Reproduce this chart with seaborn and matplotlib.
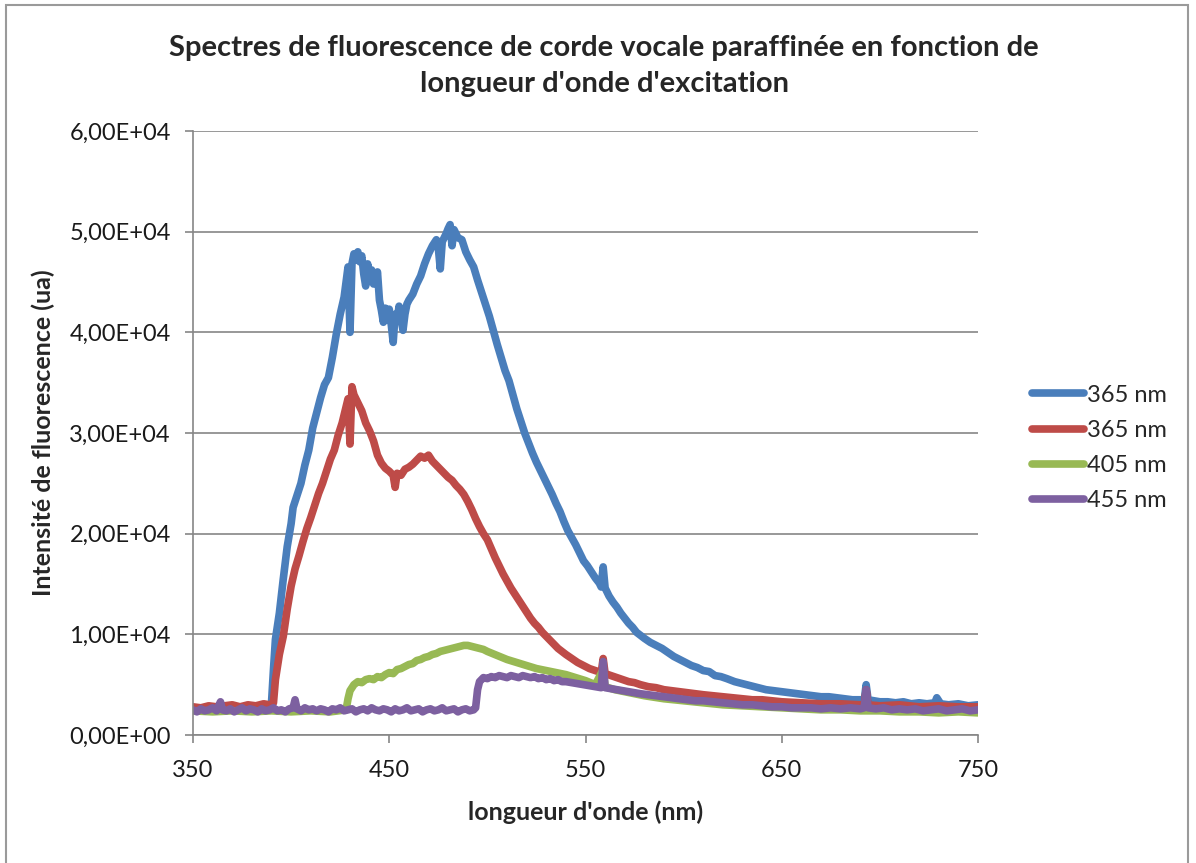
import numpy as np
import pandas as pd
import matplotlib
matplotlib.use("Agg")
import matplotlib.pyplot as plt
import matplotlib.patches as patches
from matplotlib.ticker import FuncFormatter
import seaborn as sns

# spectra (nm, intensity ua)
blue_nm = [350, 352, 354, 356, 358, 360, 362, 364, 366, 368, 370, 372, 374, 376, 378, 380, 382, 384, 386, 388,
           390, 391, 392, 394, 396, 398, 400, 401, 403, 405, 407, 409, 411, 413, 415, 417, 419, 421, 423, 425,
           427, 428, 429, 430, 431, 432, 433, 434, 435, 436, 437, 438, 439, 440, 441, 442, 443, 444, 445, 446,
           447, 448, 449, 450, 451, 452, 453, 454, 455, 456, 457, 458, 459, 460, 462, 464, 466, 468, 470, 472,
           474, 475, 476, 477, 479, 480, 481, 482, 483, 485, 487, 489, 491, 493, 495, 497, 499, 501, 503, 505,
           507, 509, 511, 513, 515, 517, 519, 521, 523, 525, 527, 529, 531, 533, 535, 537, 539, 541, 543, 545,
           547, 549, 551, 553, 555, 557, 558, 559, 560, 562, 564, 566, 568, 570, 572, 574, 576, 578, 580, 583,
           586, 589, 592, 595, 598, 601, 604, 607, 610, 613, 616, 619, 622, 626, 630, 634, 638, 642, 646, 650,
           654, 658, 662, 666, 670, 674, 678, 682, 686, 690, 692, 693, 694, 697, 700, 704, 708, 712, 716, 720,
           724, 728, 729, 731, 735, 740, 745, 750]
blue_val = [2500, 2700, 2400, 2600, 2500, 2800, 2500, 2600, 2700, 2500, 2800, 2600, 2700, 2500, 2800, 2600, 2700, 2600, 2800, 2700,
            3200, 6500, 9500, 12100, 15500, 18700, 21000, 22600, 23800, 25000, 26800, 28300, 30500, 32000, 33500, 34800, 35500, 37500, 39800, 41800,
            43500, 45000, 46500, 40000, 46800, 47800, 47200, 48000, 47000, 47600, 45800, 44600, 46800, 45500, 46200, 44800, 45200, 46000, 43200, 42200,
            41000, 42400, 41200, 42300, 40800, 39000, 41800, 41200, 42600, 41400, 40200, 41800, 42800, 43200, 43800, 44800, 45600, 46800, 47800, 48600,
            49200, 48400, 46300, 49000, 49800, 50300, 50700, 48600, 50200, 49400, 49200, 48000, 47200, 46500, 45200, 44000, 42800, 41600, 40200, 38800,
            37500, 36200, 35200, 33800, 32400, 31200, 30000, 29000, 28000, 27100, 26300, 25500, 24700, 23900, 23000, 22200, 21200, 20300, 19600, 18900,
            18100, 17300, 16800, 16200, 15600, 15100, 14700, 16700, 14600, 13800, 13200, 12700, 12100, 11600, 11100, 10700, 10200, 9900, 9600, 9200,
            8900, 8600, 8200, 7800, 7500, 7200, 6900, 6700, 6400, 6300, 5900, 5800, 5600, 5300, 5100, 4900, 4700, 4500, 4400, 4300,
            4200, 4100, 4000, 3900, 3800, 3800, 3700, 3600, 3500, 3500, 3400, 5000, 3500, 3400, 3300, 3300, 3200, 3300, 3100, 3200,
            3100, 3200, 3700, 3100, 3000, 3100, 2900, 3000]

red_nm = [350, 354, 358, 362, 366, 370, 374, 378, 382, 386, 389, 391, 392, 394, 396, 398, 400, 402, 404, 406,
          408, 410, 412, 414, 416, 418, 420, 422, 424, 426, 428, 429, 430, 431, 432, 434, 436, 438, 440, 442,
          444, 446, 448, 450, 452, 453, 454, 456, 458, 460, 462, 464, 466, 468, 470, 472, 474, 476, 478, 480,
          482, 484, 486, 488, 490, 492, 494, 496, 498, 500, 502, 504, 506, 508, 510, 512, 514, 516, 518, 520,
          522, 524, 526, 528, 530, 532, 534, 536, 538, 540, 543, 546, 549, 552, 555, 558, 559, 560, 563, 566,
          569, 572, 575, 578, 582, 586, 590, 594, 598, 602, 606, 610, 615, 620, 625, 630, 635, 640, 645, 650,
          660, 670, 680, 690, 692, 693, 694, 700, 710, 720, 730, 740, 750]
red_val = [2800, 2700, 2900, 2800, 2900, 3000, 2800, 3000, 2900, 3100, 3000, 3200, 5500, 8000, 9800, 12500, 14800, 16500, 17800, 19200,
           20500, 21600, 22800, 24000, 25000, 26200, 27400, 28300, 29800, 31000, 32600, 33400, 28900, 34600, 33800, 33000, 32200, 31000, 30200, 29200,
           27800, 27000, 26500, 26200, 25800, 24600, 26000, 25800, 26400, 26600, 26900, 27300, 27700, 27500, 27800, 27200, 26800, 26400, 26000, 25600,
           25300, 24800, 24400, 23900, 23200, 22400, 21500, 20700, 20000, 19400, 18500, 17600, 16800, 16000, 15300, 14600, 14000, 13400, 12800, 12200,
           11600, 11100, 10700, 10200, 9800, 9400, 9000, 8600, 8300, 8000, 7600, 7200, 6900, 6600, 6400, 6200, 7600, 6100, 5900, 5700,
           5500, 5300, 5200, 5000, 4800, 4700, 4500, 4400, 4300, 4200, 4100, 4000, 3900, 3800, 3700, 3600, 3500, 3500, 3400, 3300,
           3200, 3100, 3100, 3000, 3000, 4500, 3000, 2900, 3000, 2800, 2900, 2800, 2800]

green_nm = [350, 360, 370, 380, 390, 400, 410, 420, 428, 429, 430, 432, 434, 436, 438, 440, 442, 444, 446, 448,
            450, 452, 454, 456, 458, 460, 462, 464, 466, 468, 470, 472, 474, 476, 478, 480, 482, 484, 486, 488,
            490, 492, 494, 496, 498, 500, 505, 510, 515, 520, 525, 530, 535, 540, 545, 550, 555, 559, 560, 565,
            570, 575, 580, 590, 600, 610, 620, 630, 640, 650, 660, 670, 680, 690, 700, 710, 720, 730, 740, 750]
green_val = [2400, 2300, 2400, 2300, 2400, 2300, 2400, 2300, 2500, 3600, 4400, 5000, 5300, 5200, 5500, 5600, 5500, 5800, 5700, 6000,
             6200, 6100, 6500, 6600, 6800, 7000, 7100, 7400, 7500, 7700, 7800, 8000, 8100, 8300, 8400, 8500, 8600, 8700, 8800, 8900,
             8900, 8800, 8700, 8600, 8500, 8300, 7900, 7500, 7200, 6900, 6600, 6400, 6200, 6000, 5700, 5400, 5000, 6500, 4800, 4500,
             4300, 4100, 3900, 3600, 3400, 3200, 3000, 2900, 2800, 2700, 2600, 2500, 2500, 2400, 2400, 2300, 2300, 2200, 2300, 2200]

purple_nm = [350, 352, 354, 356, 358, 360, 362, 364, 365, 367, 369, 371, 373, 375, 377, 379, 381, 383, 385, 387,
             389, 391, 393, 395, 397, 399, 401, 402, 403, 405, 407, 409, 411, 413, 415, 417, 419, 421, 423, 425,
             427, 429, 431, 433, 435, 437, 439, 441, 443, 445, 447, 449, 451, 453, 455, 457, 459, 461, 463, 465,
             467, 469, 471, 473, 475, 477, 479, 481, 483, 485, 487, 489, 491, 493, 494, 495, 496, 498, 500, 502,
             504, 506, 508, 510, 512, 514, 516, 518, 520, 522, 524, 526, 528, 530, 532, 534, 536, 538, 540, 543,
             546, 549, 552, 555, 558, 559, 560, 563, 566, 569, 572, 575, 578, 582, 586, 590, 594, 598, 602, 606,
             610, 615, 620, 625, 630, 635, 640, 645, 650, 655, 660, 665, 670, 675, 680, 685, 690, 692, 693, 694,
             698, 702, 706, 710, 714, 718, 722, 726, 730, 734, 738, 742, 746, 750]
purple_val = [2500, 2300, 2600, 2400, 2500, 2700, 2400, 3300, 2500, 2400, 2600, 2300, 2500, 2700, 2400, 2600, 2500, 2300, 2600, 2400,
              2500, 2700, 2400, 2500, 2300, 2600, 2700, 3500, 2600, 2400, 2700, 2500, 2600, 2400, 2600, 2500, 2300, 2600, 2500, 2700,
              2400, 2500, 2600, 2300, 2500, 2600, 2400, 2700, 2500, 2400, 2600, 2500, 2300, 2600, 2400, 2500, 2700, 2400, 2500, 2600,
              2300, 2500, 2600, 2400, 2500, 2700, 2400, 2500, 2600, 2300, 2500, 2600, 2400, 2500, 2700, 4500, 5300, 5700, 5600, 5800,
              5700, 5900, 5800, 5700, 5900, 5800, 5700, 5900, 5800, 5700, 5800, 5600, 5700, 5500, 5600, 5400, 5500, 5300, 5300, 5200,
              5100, 5000, 4900, 4800, 4700, 7300, 4700, 4600, 4500, 4400, 4300, 4200, 4100, 4000, 3900, 3800, 3700, 3600, 3500, 3400,
              3400, 3300, 3200, 3100, 3000, 3000, 2900, 2800, 2800, 2700, 2700, 2700, 2600, 2700, 2600, 2700, 2600, 2700, 4500, 2700,
              2600, 2700, 2500, 2600, 2500, 2600, 2400, 2500, 2600, 2400, 2500, 2600, 2400, 2500]

labels = ["365 nm", "365 nm", "405 nm", "455 nm"]
colors = ["#4a7ebb", "#be4b48", "#98b954", "#7d60a0"]

sns.set_style("white")
plt.rcParams['font.family'] = ['Lato', 'DejaVu Sans']

fig = plt.figure(figsize=(11.96, 8.63), dpi=100)
ax = fig.add_axes([193/1196, 1-735/863, (978-193)/1196, (735-131)/863])

series = [(blue_nm, blue_val), (red_nm, red_val), (green_nm, green_val), (purple_nm, purple_val)]
for (xs, ys), lab, col in zip(series, labels, colors):
    sns.lineplot(x=xs, y=ys, ax=ax, color=col, linewidth=5.5, label=lab)

gray = "#868686"
ax.set_xlim(350, 750)
ax.set_ylim(0, 60000)
ax.set_xticks([350, 450, 550, 650, 750])
ax.set_yticks(np.arange(0, 60001, 10000))
ax.yaxis.set_major_formatter(FuncFormatter(lambda v, p: f"{v:.2E}".replace(".", ",")))
ax.grid(axis="y", color=gray, linewidth=1.2)
ax.set_axisbelow(True)
for s in ["top", "right"]:
    ax.spines[s].set_visible(False)
for s in ["left", "bottom"]:
    ax.spines[s].set_color(gray)
    ax.spines[s].set_linewidth(1.2)
ax.tick_params(axis="both", which="major", colors=gray, labelcolor="#1a1a1a", labelsize=17,
               length=6, width=1.2, direction="out", left=True, bottom=True)
ax.tick_params(axis="y", pad=10)
ax.tick_params(axis="x", pad=12)

ax.set_xlabel("longueur d'onde (nm)", fontsize=18, fontweight="bold", labelpad=14)
ax.set_ylabel("Intensité de fluorescence (ua)", fontsize=18, fontweight="bold", labelpad=10)

fig.text(604/1196, 1-66/863, "Spectres de fluorescence de corde vocale paraffinée en fonction de\nlongueur d'onde d'excitation",
         ha="center", va="center", fontsize=21, fontweight="bold", linespacing=1.45)

leg = ax.legend(loc="center left", bbox_to_anchor=(1020/1196, 1-448/863), bbox_transform=fig.transFigure,
                frameon=False, fontsize=17, handlelength=2.2, handletextpad=0.15, labelspacing=0.6, borderpad=0)
for h in leg.get_lines():
    h.set_linewidth(5.5)

fig.add_artist(patches.Rectangle((6/1196, -0.01), (1188-6)/1196, 1-5/863+0.01, transform=fig.transFigure,
                                 fill=False, edgecolor="#9a9a9a", linewidth=1.5))

fig.savefig("out.png", dpi=100)
